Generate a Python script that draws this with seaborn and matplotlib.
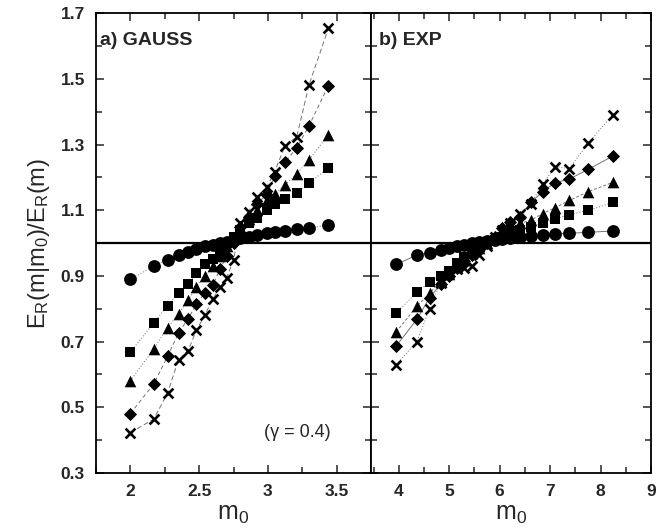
import numpy as np
import pandas as pd
import matplotlib
matplotlib.use("Agg")
import matplotlib.pyplot as plt
from matplotlib.ticker import MultipleLocator
import seaborn as sns

sns.set_style("ticks")
plt.rcParams['font.family'] = ['Liberation Sans', 'DejaVu Sans']
plt.rcParams['mathtext.fontset'] = 'custom'
plt.rcParams['mathtext.rm'] = 'Liberation Sans'
plt.rcParams['mathtext.it'] = 'Liberation Sans'

# ---- data: a) GAUSS ----
gauss_m0 = [2.0, 2.17, 2.27, 2.35, 2.42, 2.48, 2.54, 2.6, 2.65, 2.7,
            2.75, 2.80, 2.86, 2.92, 2.99, 3.05, 3.125, 3.21, 3.30, 3.44]
gauss_circle = [0.89, 0.93, 0.948, 0.963, 0.974, 0.982, 0.99, 0.995, 1.0, 1.005,
                1.01, 1.015, 1.02, 1.025, 1.03, 1.033, 1.037, 1.042, 1.047, 1.055]
gauss_square = [0.668, 0.757, 0.809, 0.848, 0.877, 0.909, 0.936, 0.953, 0.975, 1.0,
                1.02, 1.04, 1.06, 1.076, 1.10, 1.12, 1.134, 1.154, 1.183, 1.229]
gauss_triangle = [0.581, 0.678, 0.742, 0.785, 0.826, 0.867, 0.90, 0.93, 0.96, 0.99,
                  1.02, 1.05, 1.075, 1.10, 1.13, 1.149, 1.178, 1.211, 1.254, 1.33]
gauss_diamond = [0.481, 0.571, 0.655, 0.726, 0.77, 0.814, 0.848, 0.872, 0.92, 0.96,
                 1.0, 1.05, 1.08, 1.12, 1.147, 1.203, 1.247, 1.29, 1.358, 1.48]
gauss_cross = [0.423, 0.464, 0.543, 0.645, 0.673, 0.734, 0.78, 0.83, 0.865, 0.895,
               0.948, 1.062, 1.096, 1.14, 1.17, 1.218, 1.297, 1.324, 1.483, 1.654]

# ---- data: b) EXP ----
exp_m0 = [3.95, 4.36, 4.61, 4.83, 5.0, 5.15, 5.3, 5.45, 5.6, 5.75,
          5.9, 6.05, 6.2, 6.4, 6.62, 6.85, 7.1, 7.38, 7.76, 8.24]
exp_circle = [0.935, 0.964, 0.971, 0.98, 0.985, 0.99, 0.995, 1.0, 1.003, 1.006,
              1.01, 1.013, 1.016, 1.019, 1.022, 1.025, 1.028, 1.03, 1.033, 1.037]
exp_square = [0.788, 0.85, 0.883, 0.90, 0.915, 0.94, 0.958, 0.975, 0.99, 1.0,
              1.01, 1.02, 1.03, 1.04, 1.05, 1.06, 1.074, 1.087, 1.10, 1.124]
exp_triangle = [0.73, 0.808, 0.847, 0.885, 0.905, 0.93, 0.95, 0.97, 0.985, 1.0,
                1.015, 1.03, 1.045, 1.06, 1.07, 1.09, 1.108, 1.13, 1.157, 1.185]
exp_diamond = [0.687, 0.768, 0.834, 0.875, 0.90, 0.925, 0.945, 0.965, 0.985, 1.0,
               1.02, 1.045, 1.065, 1.08, 1.124, 1.157, 1.184, 1.195, 1.225, 1.265]
exp_cross = [0.63, 0.70, 0.80, 0.88, 0.91, 0.92, 0.925, 0.93, 0.963, 0.99,
             1.02, 1.04, 1.06, 1.09, 1.12, 1.18, 1.233, 1.227, 1.306, 1.39]

yticks = [0.3, 0.5, 0.7, 0.9, 1.1, 1.3, 1.5, 1.7]
gauss_xticks = [2, 2.5, 3, 3.5]
exp_xticks = [4, 5, 6, 7, 8, 9]

series_style = [
    # (name, marker, size, gauss linestyle, exp linestyle)
    ("circle", "o", 85, (0, (1, 2)), "-"),
    ("square", "s", 60, (0, (1, 2)), (0, (1, 2))),
    ("triangle", "^", 70, (0, (1, 2)), (0, (3, 2))),
    ("diamond", "D", 45, (0, (4, 3)), "-"),
    ("cross", "x", 50, (0, (5, 3)), (0, (1, 2))),
]

fig = plt.figure(figsize=(6.57, 5.31), dpi=100)
L, M, R, B, T = 96/657, 371/657, 651/657, 1-473/531, 1-13.3/531
ax1 = fig.add_axes([L, B, M-L, T-B])
ax2 = fig.add_axes([M, B, R-M, T-B])

panels = [
    (ax1, gauss_m0, [gauss_circle, gauss_square, gauss_triangle, gauss_diamond, gauss_cross], 3),
    (ax2, exp_m0, [exp_circle, exp_square, exp_triangle, exp_diamond, exp_cross], 4),
]

for ax, xs, ys_list, idx in panels:
    ax.axhline(1.0, color="black", lw=1.6, zorder=1)
    for style, ys in zip(series_style, ys_list):
        name, mk, sz = style[:3]
        ls = style[idx]
        df = pd.DataFrame({"m0": xs, "ratio": ys})
        sns.lineplot(data=df, x="m0", y="ratio", ax=ax, color="0.45", lw=0.7,
                     linestyle=ls, zorder=2, estimator=None)
        if mk == "x":
            sns.scatterplot(data=df, x="m0", y="ratio", ax=ax, marker="x",
                            s=sz, color="black", linewidth=1.9, zorder=3)
        else:
            sns.scatterplot(data=df, x="m0", y="ratio", ax=ax, marker=mk,
                            s=sz, color="black", edgecolor="black",
                            linewidth=0, zorder=3)

for ax in (ax1, ax2):
    ax.set_ylim(0.3, 1.7)
    ax.set_yticks(yticks)
    ax.yaxis.set_minor_locator(MultipleLocator(0.1))
    ax.tick_params(which="both", direction="in", top=True, right=True,
                   width=1.1, labelsize=12.5)
    ax.tick_params(which="major", length=6, pad=8)
    ax.tick_params(which="minor", length=4)
    for sp in ax.spines.values():
        sp.set_linewidth(1.3)
        sp.set_color("black")
    ax.set_ylabel("")
    ax.set_xlabel(r"m$_0$", fontsize=18, labelpad=2)

ax1.set_xlim(1.75, 3.75)
ax1.set_xticks(gauss_xticks)
ax1.set_xticklabels(["2", "2.5", "3", "3.5"], fontweight="bold")
ax1.xaxis.set_minor_locator(MultipleLocator(0.25))
ax1.set_yticklabels([f"{v:.1f}" for v in yticks], fontweight="bold")
ax1.set_ylabel(r"E$_\mathrm{R}$(m|m$_0$)/E$_\mathrm{R}$(m)", fontsize=17, labelpad=6)

ax2.set_xlim(3.45, 9)
ax2.set_xticks(exp_xticks)
ax2.set_xticklabels([str(v) for v in exp_xticks], fontweight="bold")
ax2.xaxis.set_minor_locator(MultipleLocator(0.5))
ax2.tick_params(labelleft=False)

ax1.text(0.015, 0.94, "a) GAUSS", transform=ax1.transAxes, fontsize=14,
         fontweight="bold", va="center", ha="left")
ax2.text(0.03, 0.94, "b) EXP", transform=ax2.transAxes, fontsize=14,
         fontweight="bold", va="center", ha="left")
ax1.text(0.855, 0.089, "(\u03b3 = 0.4)", transform=ax1.transAxes, fontsize=13,
         va="center", ha="right")

fig.savefig("out.png", dpi=100)
